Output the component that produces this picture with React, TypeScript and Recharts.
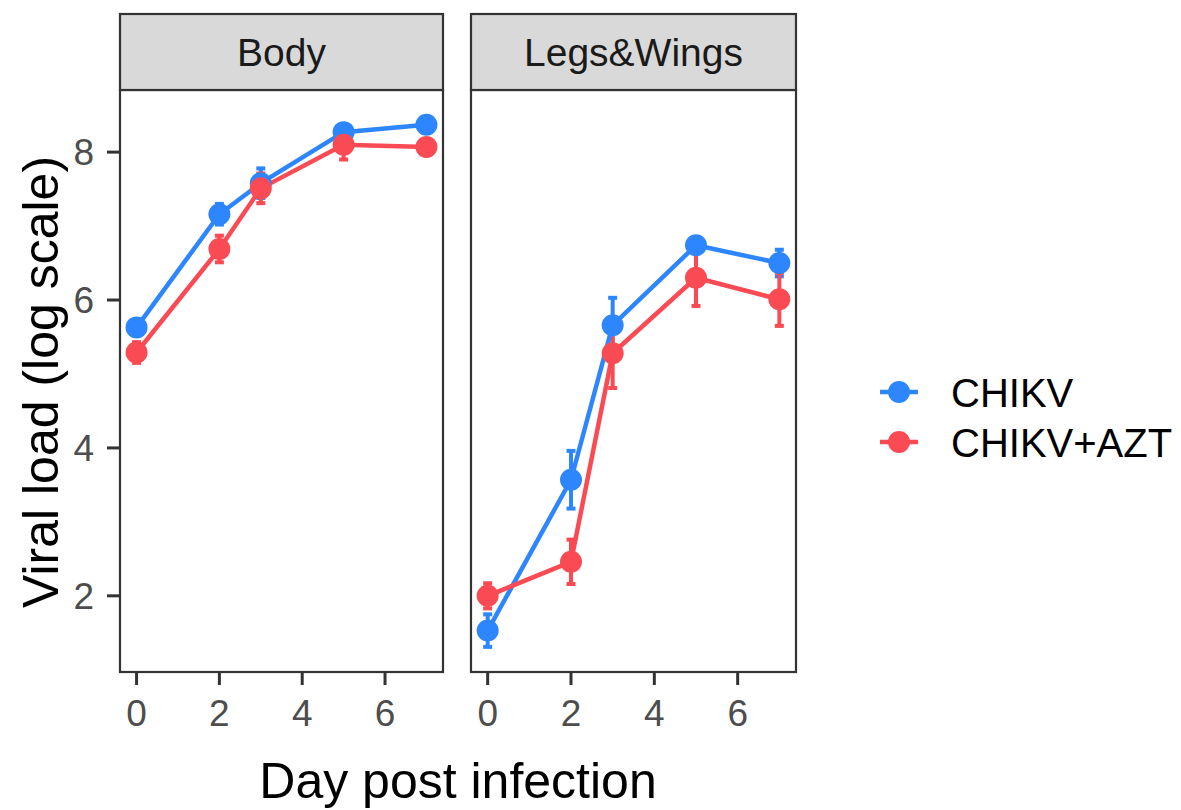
import { LineChart, Line, XAxis, YAxis, ErrorBar } from "recharts";

const days = [0, 2, 3, 5, 7];
const xTicks = [0, 2, 4, 6];
const yTicks = [2, 4, 6, 8];
const panels = ["Body", "Legs&Wings"];
const groups = ["CHIKV", "CHIKV+AZT"];

const bodyChikv = [5.63, 7.16, 7.58, 8.27, 8.37];
const bodyChikvErr = [0.06, 0.14, 0.2, 0.06, 0.05];
const bodyAzt = [5.29, 6.69, 7.51, 8.1, 8.07];
const bodyAztErr = [0.14, 0.18, 0.2, 0.2, 0.05];

const legsChikv = [1.53, 3.57, 5.66, 6.74, 6.5];
const legsChikvErr = [0.22, 0.39, 0.37, 0.06, 0.18];
const legsAzt = [2.0, 2.46, 5.28, 6.3, 6.01];
const legsAztErr = [0.17, 0.3, 0.47, 0.38, 0.36];

const BLUE = "#2E86FE";
const RED = "#FA4A53";
const FONT = "'Liberation Sans', Arial, sans-serif";
const X_DOMAIN = [-0.4, 7.4];
const Y_DOMAIN = [0.97, 8.84];

function rows(a: number[], aErr: number[], b: number[], bErr: number[]) {
  return days.map((d, i) => ({ day: d, chikv: a[i], chikvErr: aErr[i], azt: b[i], aztErr: bErr[i] }));
}

const bodyData = rows(bodyChikv, bodyChikvErr, bodyAzt, bodyAztErr);
const legsData = rows(legsChikv, legsChikvErr, legsAzt, legsAztErr);

const tickStyle = { fontSize: 37, fill: "#4D4D4D", fontFamily: FONT };
const tickLine = { stroke: "#333333", strokeWidth: 3 };

function Panel({ data, showY, width, left }: { data: any[]; showY: boolean; width: number; left: number }) {
  return (
    <div style={{ position: "absolute", left, top: 0 }}>
      <LineChart width={width} height={760} data={data}
        margin={{ top: 90, right: showY ? 1 : 2, left: showY ? 0 : 31, bottom: 0 }}>
        <XAxis dataKey="day" type="number" domain={X_DOMAIN} ticks={xTicks} allowDataOverflow
          height={88} tick={tickStyle} tickSize={13} tickMargin={15} tickLine={tickLine} axisLine={false} />
        <YAxis type="number" domain={Y_DOMAIN} ticks={yTicks} allowDataOverflow hide={!showY}
          width={120} tick={tickStyle} tickSize={13} tickMargin={13} tickLine={tickLine} axisLine={false} />
        {/* error bars underneath */}
        <Line dataKey="chikv" stroke="none" dot={false} activeDot={false} isAnimationActive={false}>
          <ErrorBar dataKey="chikvErr" direction="y" width={4.5} strokeWidth={4} stroke={BLUE} />
        </Line>
        <Line dataKey="azt" stroke="none" dot={false} activeDot={false} isAnimationActive={false}>
          <ErrorBar dataKey="aztErr" direction="y" width={4.5} strokeWidth={4} stroke={RED} />
        </Line>
        {/* lines */}
        <Line type="linear" dataKey="chikv" stroke={BLUE} strokeWidth={4.5} dot={false} activeDot={false} isAnimationActive={false} />
        <Line type="linear" dataKey="azt" stroke={RED} strokeWidth={4.5} dot={false} activeDot={false} isAnimationActive={false} />
        {/* points */}
        <Line dataKey="chikv" stroke="none" activeDot={false} isAnimationActive={false}
          dot={{ r: 11, fill: BLUE, stroke: "none", strokeWidth: 0 }} />
        <Line dataKey="azt" stroke="none" activeDot={false} isAnimationActive={false}
          dot={{ r: 11, fill: RED, stroke: "none", strokeWidth: 0 }} />
      </LineChart>
    </div>
  );
}

export default function App() {
  const boxes = [
    { x: 120, w: 323 },
    { x: 471, w: 325 },
  ];
  return (
    <div style={{ position: "absolute", left: 0, top: 0, width: 1181, height: 810, background: "#fff", fontFamily: FONT }}>
      <Panel data={bodyData} showY width={444} left={0} />
      <Panel data={legsData} showY={false} width={358} left={440} />
      <svg width={1181} height={810} style={{ position: "absolute", left: 0, top: 0, pointerEvents: "none" }}>
        {boxes.map((b, i) => (
          <g key={panels[i]}>
            <rect x={b.x} y={90} width={b.w} height={582} fill="none" stroke="#333333" strokeWidth={2.2} />
            <rect x={b.x} y={14} width={b.w} height={76} fill="#D9D9D9" stroke="#333333" strokeWidth={2.2} />
            <text x={b.x + b.w / 2} y={66} textAnchor="middle" fontSize={39} fill="#1A1A1A" fontFamily={FONT}>
              {panels[i]}
            </text>
          </g>
        ))}
        <text x={458} y={798} textAnchor="middle" fontSize={50} fill="#000" fontFamily={FONT}>Day post infection</text>
        <text x={58} y={382} textAnchor="middle" fontSize={50} fill="#000" fontFamily={FONT}
          transform="rotate(-90 58 382)">Viral load (log scale)</text>
        {groups.map((g, i) => {
          const cy = 392 + i * 50;
          const col = i === 0 ? BLUE : RED;
          return (
            <g key={g}>
              <line x1={880} x2={918} y1={cy} y2={cy} stroke={col} strokeWidth={4.5} />
              <circle cx={899} cy={cy} r={11} fill={col} />
              <text x={951} y={cy + 15} fontSize={40} fill="#000" fontFamily={FONT}>{g}</text>
            </g>
          );
        })}
      </svg>
    </div>
  );
}
